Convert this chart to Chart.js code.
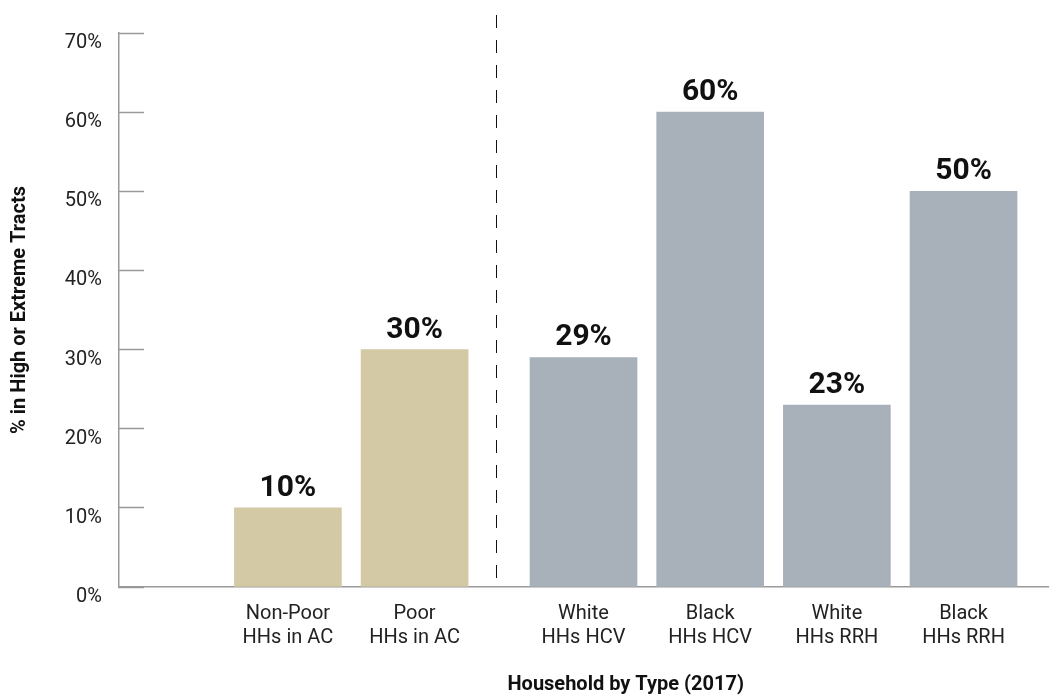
<!DOCTYPE html>
<html>
<head>
<meta charset="utf-8">
<title>Household by Type (2017)</title>
<script src="https://cdn.jsdelivr.net/npm/chart.js@4.4.1/dist/chart.umd.min.js"></script>
<style>
  html, body { margin: 0; padding: 0; background: #fff; }
  #wrap { width: 1064px; height: 698px; }
</style>
</head>
<body>
<div id="wrap"><canvas id="chart"></canvas></div>
<script>
// Data
var categories = [
  ["Non-Poor", "HHs in AC"],
  ["Poor", "HHs in AC"],
  ["White", "HHs HCV"],
  ["Black", "HHs HCV"],
  ["White", "HHs RRH"],
  ["Black", "HHs RRH"]
];
var shares = [10, 30, 29, 60, 23, 50];
var groups = ["AC", "AC", "Program", "Program", "Program", "Program"];
var yTicks = [0, 10, 20, 30, 40, 50, 60, 70];

var groupColors = { AC: "#d3c9a5", Program: "#a8b1ba" };

// Slot layout on the category axis (empty slots give the spacing)
var LEAD = 4, STEP = 3, GROUP_GAP = 1, TAIL = 2;
var slotOf = [];
var slot = LEAD;
groups.forEach(function (g, i) {
  if (i > 0) slot += STEP + (g !== groups[i - 1] ? GROUP_GAP : 0);
  slotOf.push(slot);
});
var nSlots = slot + TAIL + 1;

var labels = [], values = [], colors = [];
for (var s = 0; s < nSlots; s++) { labels.push(""); values.push(null); colors.push("#fff"); }
slotOf.forEach(function (sl, i) {
  labels[sl] = categories[i];
  values[sl] = shares[i];
  colors[sl] = groupColors[groups[i]];
});

var FONT = "Roboto";

// Value labels above bars, divider between groups, x title under bars
var extras = {
  id: "extras",
  afterDatasetsDraw: function (chart) {
    var ctx = chart.ctx;
    var meta = chart.getDatasetMeta(0);
    var x = chart.scales.x;
    var area = chart.chartArea;
    ctx.save();

    ctx.fillStyle = "#111";
    ctx.font = "bold 30px " + FONT;
    ctx.textAlign = "center";
    ctx.textBaseline = "alphabetic";
    meta.data.forEach(function (bar, i) {
      if (values[i] == null) return;
      ctx.fillText(values[i] + "%", bar.x, bar.y - 12);
    });

    // dashed divider between the two groups
    for (var i = 1; i < groups.length; i++) {
      if (groups[i] !== groups[i - 1]) {
        var dx = Math.round((x.getPixelForValue(slotOf[i - 1]) + x.getPixelForValue(slotOf[i])) / 2) - 2.5;
        ctx.strokeStyle = "#111";
        ctx.lineWidth = 1;
        ctx.setLineDash([13, 12]);
        ctx.beginPath();
        ctx.moveTo(dx, area.top - 18);
        ctx.lineTo(dx, area.bottom);
        ctx.stroke();
        ctx.setLineDash([]);
      }
    }

    // x-axis title centred under the bars
    var first = meta.data[slotOf[0]], last = meta.data[slotOf[slotOf.length - 1]];
    var cx = (first.x - first.width / 2 + last.x + last.width / 2) / 2;
    ctx.font = "bold 20px " + FONT;
    ctx.textBaseline = "middle";
    ctx.fillText("Household by Type (2017)", cx, 685);
    ctx.restore();
  }
};

var ctx = document.getElementById("chart").getContext("2d");

var myChart = new Chart(ctx, {
  type: "bar",
  data: {
    labels: labels,
    datasets: [{
      label: "% in High or Extreme Tracts",
      data: values,
      backgroundColor: colors,
      borderWidth: 0,
      barThickness: 107
    }]
  },
  plugins: [extras],
  options: {
    responsive: true,
    maintainAspectRatio: false,
    animation: false,
    layout: { padding: { top: 33, right: 16, left: 0, bottom: 0 } },
    plugins: {
      legend: { display: false },
      tooltip: { enabled: false }
    },
    scales: {
      x: {
        type: "category",
        offset: false,
        grid: { display: false, drawTicks: false },
        border: { display: true, color: "#999", width: 1.5 },
        ticks: {
          autoSkip: false,
          maxRotation: 0,
          padding: 15,
          color: "#222",
          font: { family: FONT, size: 20, lineHeight: 1.2 }
        },
        afterFit: function (scale) {
          scale.height = 111;
          scale.paddingLeft = 0;
          scale.paddingRight = 0;
        }
      },
      y: {
        min: 0,
        max: 70,
        afterBuildTicks: function (scale) {
          scale.ticks = yTicks.map(function (v) { return { value: v }; });
        },
        grid: {
          drawOnChartArea: false,
          drawTicks: true,
          tickLength: -25,
          tickColor: "#999",
          tickWidth: 1.5
        },
        border: { display: true, color: "#999", width: 1.5 },
        ticks: {
          align: "start",
          padding: 42,
          color: "#222",
          font: { family: FONT, size: 20 },
          callback: function (v) { return v + "%"; }
        },
        title: {
          display: true,
          text: "% in High or Extreme Tracts",
          color: "#111",
          font: { family: FONT, size: 20, weight: "bold" },
          padding: { top: 8, bottom: 0 }
        },
        afterFit: function (scale) {
          scale.width = 119;
          scale.paddingTop = 0;
          scale.paddingBottom = 0;
        }
      }
    }
  }
});
</script>
</body>
</html>
